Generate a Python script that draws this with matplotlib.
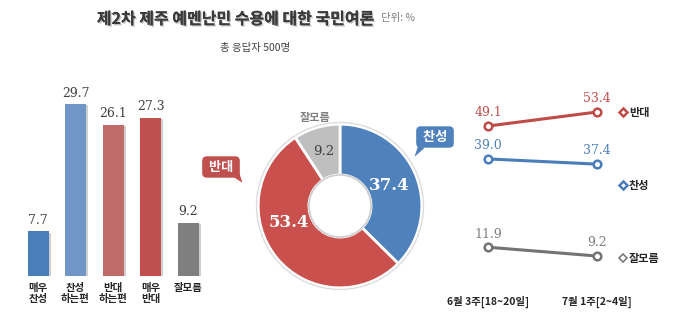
import numpy as np
import matplotlib
matplotlib.use("Agg")
import matplotlib.pyplot as plt
import matplotlib.patheffects as pe
from matplotlib.lines import Line2D
from matplotlib.patches import Circle

plt.rcParams['font.family'] = ['Noto Sans CJK KR', 'DejaVu Sans']

# --- data ---
bar_labels = ["매우\n찬성", "찬성\n하는편", "반대\n하는편", "매우\n반대", "잘모름"]
bar_values = [7.7, 29.7, 26.1, 27.3, 9.2]
bar_colors = ["#4a7ebb", "#7096c8", "#c06a6a", "#c0504d", "#7f7f7f"]

pie_labels = ["찬성", "반대", "잘모름"]
pie_values = [37.4, 53.4, 9.2]
pie_colors = ["#4f81bd", "#c9504d", "#bfbfbf"]

periods = ["6월 3주[18~20일]", "7월 1주[2~4일]"]
trend_oppose = [49.1, 53.4]
trend_support = [39.0, 37.4]
trend_unsure = [11.9, 9.2]

RED = "#c0504d"
BLUE = "#4f81bd"
GRAY = "#7f7f7f"
DARK = "#262626"

W, H = 700, 336
fig = plt.figure(figsize=(7, 3.36), dpi=100)


def px(left, bottom, width, height):
    return [left / W, bottom / H, width / W, height / H]


# title
fig.text(236 / W, 1 - 19 / H, "제2차 제주 예멘난민 수용에 대한 국민여론", ha="center", va="center",
         fontsize=11.5, fontweight="heavy", color="#3a3a3a",
         path_effects=[pe.withSimplePatchShadow(offset=(1, -1), shadow_rgbFace="#999999", alpha=0.6),
                       pe.Normal()])
fig.text(381 / W, 1 - 18 / H, "단위: %", ha="left", va="center", fontsize=7.5, color="#808080")
fig.text(255 / W, 1 - 48 / H, "총 응답자 500명", ha="center", va="center", fontsize=7.5, color="#404040")

# --- bar chart ---
ax_b = fig.add_axes(px(19.25, 60, 187.5, 203))
x = np.arange(len(bar_values))
bars = ax_b.bar(x, bar_values, width=0.56, color=bar_colors, edgecolor="none")
for b in bars:
    b.set_path_effects([pe.withSimplePatchShadow(offset=(1.5, -1), shadow_rgbFace="#b0b0b0", alpha=0.6),
                        pe.Normal()])
for xi, v in zip(x, bar_values):
    ax_b.annotate(f"{v:.1f}", (xi, v), xytext=(0, 3), textcoords="offset points",
                  ha="center", va="bottom", fontsize=9, family="DejaVu Serif", color="#404040")
ax_b.set_xlim(-0.5, len(bar_values) - 0.5)
ax_b.set_ylim(0, 35)
ax_b.set_xticks(x, bar_labels)
ax_b.tick_params(axis="x", length=0, pad=5, labelsize=7.5, labelcolor=DARK)
for t in ax_b.get_xticklabels():
    t.set_fontweight("bold")
    t.set_linespacing(1.1)
    t.set_va("top")
ax_b.set_yticks([])
for s in ax_b.spines.values():
    s.set_visible(False)

# --- donut ---
ax_d = fig.add_axes(px(250, 40, 180, 180))
wedges, _ = ax_d.pie(pie_values, colors=pie_colors, startangle=90, counterclock=False,
                     radius=1.0, wedgeprops=dict(width=0.62, edgecolor="white", linewidth=2))
ax_d.add_patch(Circle((0, 0), 1.02, fill=False, ec="#dddddd", lw=1))
ax_d.add_patch(Circle((0, 0), 0.38, fill=False, ec="#cccccc", lw=1.2))
ax_d.set_xlim(-1.1, 1.1)
ax_d.set_ylim(-1.1, 1.1)
ax_d.set_aspect("equal")
ax_d.axis("off")

ang = 90.0
mids = []
for v in pie_values:
    mids.append(np.deg2rad(ang - v * 3.6 / 2))
    ang -= v * 3.6
# blue label at wedge middle, red pushed toward left
ax_d.text(0.65 * np.cos(mids[0]), 0.65 * np.sin(mids[0]), f"{pie_values[0]:.1f}", ha="center", va="center",
          fontsize=12, fontweight="bold", family="DejaVu Serif", color="white")
ax_d.text(-0.63, -0.2, f"{pie_values[1]:.1f}", ha="center", va="center",
          fontsize=12, fontweight="bold", family="DejaVu Serif", color="white")
ax_d.text(0.7 * np.cos(mids[2]), 0.7 * np.sin(mids[2]), f"{pie_values[2]:.1f}", ha="center", va="center",
          fontsize=9.5, family="DejaVu Serif", color="#404040")
ax_d.text(-0.3, 1.08, pie_labels[2], ha="center", va="center", fontsize=8, color="#808080",
          fontweight="bold")

# callouts
fig.text(221 / W, 1 - 167 / H, " 반대 ", ha="center", va="center", fontsize=9.5, fontweight="bold",
         color="white", bbox=dict(boxstyle="round,pad=0.28,rounding_size=0.35", fc=RED, ec="none"))
ax_d.annotate("", xy=(244 / W, 1 - 185 / H), xycoords="figure fraction",
              xytext=(235 / W, 1 - 173 / H), textcoords="figure fraction",
              arrowprops=dict(arrowstyle="wedge,tail_width=0.5", fc=RED, ec="none"))
fig.text(435 / W, 1 - 137 / H, " 찬성 ", ha="center", va="center", fontsize=9.5, fontweight="bold",
         color="white", bbox=dict(boxstyle="round,pad=0.28,rounding_size=0.35", fc=BLUE, ec="none"))
ax_d.annotate("", xy=(413 / W, 1 - 159 / H), xycoords="figure fraction",
              xytext=(423 / W, 1 - 144 / H), textcoords="figure fraction",
              arrowprops=dict(arrowstyle="wedge,tail_width=0.5", fc=BLUE, ec="none"))

# --- trend lines ---
ax_l = fig.add_axes(px(433.5, 50, 218, 195.5))
xp = np.arange(len(periods))
series = [(trend_oppose, "#bf4a48", RED, "반대"),
          (trend_support, "#4a7ebb", BLUE, "찬성"),
          (trend_unsure, "#737373", GRAY, "잘모름")]
for vals, lc, tc, name in series:
    ax_l.plot(xp, vals, color=lc, lw=2.2, marker="o", ms=5.5, mfc="white", mec=lc, mew=1.8,
              clip_on=False)
    for xi, v in zip(xp, vals):
        ax_l.annotate(f"{v:.1f}", (xi, v), xytext=(0, 9.5), textcoords="offset points",
                      ha="center", va="center", fontsize=9, family="DejaVu Serif", color=tc)
ax_l.set_xlim(-0.5, 1.5)
ax_l.set_ylim(0, 60)
ax_l.set_xticks(xp, periods)
ax_l.tick_params(axis="x", length=0, pad=7, labelsize=7.5, labelcolor=DARK)
for t in ax_l.get_xticklabels():
    t.set_fontweight("bold")
ax_l.set_yticks([])
for s in ax_l.spines.values():
    s.set_visible(False)

handles = [Line2D([], [], ls="none", marker="D", ms=4.5, mfc="white", mec=c, mew=1.8)
           for c in ["#bf4a48", "#4a7ebb", "#737373"]]
handles[2].set_markersize(4)
handles[2].set_markeredgewidth(1.1)
leg = fig.legend(handles, [s[3] for s in series], loc="upper left",
                 bbox_to_anchor=(619 / W, 1 - 106 / H), frameon=False, fontsize=8,
                 handlelength=0.7, handletextpad=0.2, labelspacing=5.4, borderpad=0,
                 borderaxespad=0)
for t in leg.get_texts():
    t.set_fontweight("bold")
    t.set_color(DARK)

fig.savefig("out.png", dpi=100)
